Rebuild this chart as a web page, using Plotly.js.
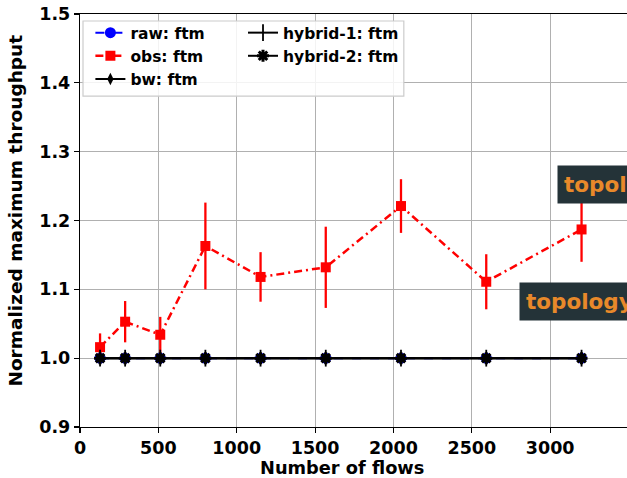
<!DOCTYPE html>
<html>
<head>
<meta charset="utf-8">
<script src="https://cdn.plot.ly/plotly-3.0.1.min.js"></script>
<style>html,body{margin:0;padding:0;background:#fff;}#chart{width:627px;height:478px;}</style>
</head>
<body>
<div id="chart"></div>
<script>
// Data
var flows = [128, 288, 512, 800, 1152, 1568, 2048, 2592, 3200];
var rawFtm = [1.0, 1.0, 1.0, 1.0, 1.0, 1.0, 1.0, 1.0, 1.0];
var obsFtm = [1.016, 1.053, 1.034, 1.163, 1.118, 1.132, 1.221, 1.111, 1.187];
var obsErr = [0.020, 0.030, 0.026, 0.063, 0.036, 0.059, 0.039, 0.040, 0.047];
var bwFtm = [1.0, 1.0, 1.0, 1.0, 1.0, 1.0, 1.0, 1.0, 1.0];
var hybrid1Ftm = [1.0, 1.0, 1.0, 1.0, 1.0, 1.0, 1.0, 1.0, 1.0];
var hybrid2Ftm = [1.0, 1.0, 1.0, 1.0, 1.0, 1.0, 1.0, 1.0, 1.0];
var xTicks = [0, 500, 1000, 1500, 2000, 2500, 3000];
var yTicks = [0.9, 1.0, 1.1, 1.2, 1.3, 1.4, 1.5];
var xTitle = "Number of flows";
var yTitle = "Normalized maximum throughput";
var noteTexts = ["topology: ftm", "topology: ftm"];

var F = "DejaVu Sans, sans-serif";
var traces = [
  {x: flows, y: rawFtm, name: "raw: ftm", mode: "lines+markers", legend: "legend", legendgroup: "a",
   line: {color: "blue", dash: "dash", width: 2},
   marker: {symbol: "circle", size: 11, color: "blue"}},
  {x: flows, y: obsFtm, name: "obs: ftm", mode: "lines+markers", legend: "legend", legendgroup: "b",
   line: {color: "red", dash: "8px,4px,2px,4px", width: 2.5},
   marker: {symbol: "square", size: 10, color: "red"},
   error_y: {type: "data", array: obsErr, visible: true, color: "red", thickness: 2.3, width: 0}},
  {x: flows, y: bwFtm, name: "bw: ftm", mode: "lines+markers", legend: "legend", legendgroup: "c",
   line: {color: "black", width: 2},
   marker: {symbol: "diamond-tall", size: 9, color: "black"}},
  {x: flows, y: hybrid1Ftm, name: "hybrid-1: ftm", mode: "lines+markers", legend: "legend2", legendgroup: "d",
   line: {color: "black", width: 2},
   marker: {symbol: "line-ns", size: 12, color: "black", line: {color: "black", width: 1.8}}},
  {x: flows, y: hybrid2Ftm, name: "hybrid-2: ftm", mode: "lines+markers", legend: "legend2", legendgroup: "e",
   line: {color: "black", width: 2},
   marker: {symbol: "asterisk", size: 10, color: "black", line: {color: "black", width: 3}}},
  {x: flows, y: hybrid2Ftm, name: "hybrid-2 core", mode: "markers", showlegend: false, hoverinfo: "skip",
   marker: {symbol: "square", size: 8, color: "black"}}
];

var legFont = {family: F, size: 15.5, weight: "bold", color: "black"};
var layout = {
  width: 627, height: 478,
  margin: {l: 80, r: 0, t: 14, b: 51},
  paper_bgcolor: "#fff", plot_bgcolor: "#fff",
  font: {family: F, color: "black"},
  showlegend: true,
  legend: {
    x: 0.019, y: 0.995, xanchor: "left", yanchor: "top", traceorder: "grouped", tracegroupgap: 0,
    bgcolor: "rgba(0,0,0,0)", borderwidth: 0, font: legFont
  },
  legend2: {
    x: 0.298, y: 0.995, xanchor: "left", yanchor: "top", traceorder: "grouped", tracegroupgap: 0,
    bgcolor: "rgba(0,0,0,0)", borderwidth: 0, font: legFont
  },
  shapes: [
    {type: "rect", xref: "paper", yref: "paper", x0: 0.0055, x1: 0.592, y0: 0.801, y1: 0.983,
     fillcolor: "rgba(255,255,255,0.85)", line: {color: "#cccccc", width: 1.2}, layer: "above"}
  ],
  xaxis: {
    range: [0, 3490], tickvals: xTicks, ticktext: xTicks.map(String),
    showgrid: true, gridcolor: "#b0b0b0", gridwidth: 1, zeroline: false,
    showline: true, linecolor: "black", linewidth: 1.2, mirror: true,
    ticks: "outside", ticklen: 5, tickwidth: 1.2, tickcolor: "black",
    tickfont: {family: F, size: 17.5, weight: "bold"}
  },
  yaxis: {
    range: [0.9, 1.5], tickvals: yTicks, ticktext: yTicks.map(function(v){return v.toFixed(1);}),
    showgrid: true, gridcolor: "#b0b0b0", gridwidth: 1, zeroline: false,
    showline: true, linecolor: "black", linewidth: 1.2, mirror: false,
    ticks: "outside", ticklen: 5, tickwidth: 1.2, tickcolor: "black",
    tickfont: {family: F, size: 17.5, weight: "bold"}
  },
  annotations: [
    {xref: "paper", yref: "paper", x: 0.4786, y: -0.097, xanchor: "center", yanchor: "middle",
     text: xTitle, showarrow: false, font: {family: F, size: 17.8, weight: "bold"}},
    {xref: "paper", yref: "paper", x: -0.117, y: 0.524, xanchor: "center", yanchor: "middle",
     text: yTitle, textangle: -90, showarrow: false, font: {family: F, size: 18.5, weight: "bold"}},
    {xref: "paper", yref: "paper", x: 0.872, y: 0.586, xanchor: "left", yanchor: "middle",
     text: noteTexts[0], showarrow: false, bgcolor: "#243338", borderpad: 6,
     font: {family: F, size: 21.5, weight: "bold", color: "#e8892a"}},
    {xref: "paper", yref: "paper", x: 0.8026, y: 0.305, xanchor: "left", yanchor: "middle",
     text: noteTexts[1], showarrow: false, bgcolor: "#243338", borderpad: 6,
     font: {family: F, size: 21.5, weight: "bold", color: "#e8892a"}}
  ]
};

Plotly.newPlot("chart", traces, layout, {displayModeBar: false, staticPlot: true});
</script>
</body>
</html>
